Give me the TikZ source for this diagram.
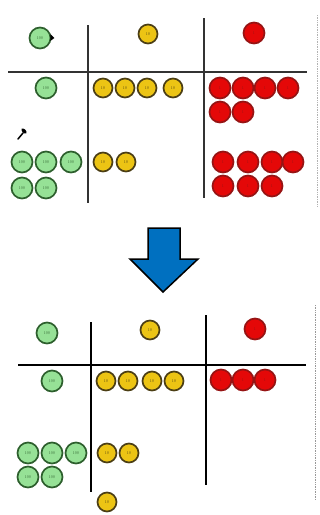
\documentclass[tikz,border=0pt]{standalone}
\usepackage{tikz}
\usetikzlibrary{positioning}

\definecolor{chipgreen}{RGB}{150,225,150}
\definecolor{greenedge}{RGB}{45,95,45}
\definecolor{chipyellow}{RGB}{236,196,20}
\definecolor{yellowedge}{RGB}{75,62,20}
\definecolor{chipred}{RGB}{228,8,8}
\definecolor{rededge}{RGB}{150,20,20}
\definecolor{arrowblue}{RGB}{0,112,192}

\begin{document}
\begin{tikzpicture}[
        x=0.1cm, y=-0.1cm,
        chip/.style={circle, inner sep=0pt, line width=0.17cm, font=\fontsize{12}{12}\selectfont},
        hundred/.style={chip, draw=greenedge, fill=chipgreen, text=greenedge, minimum size=2.1cm},
        ten/.style={chip, draw=yellowedge, fill=chipyellow, text=yellowedge, minimum size=1.9cm},
        one/.style={chip, draw=rededge, fill=chipred, text=rededge, minimum size=2.1cm},
        grid/.style={line width=0.2cm, draw=black!80}
        ]
        \useasboundingbox (0,0) rectangle (320,515);

        % top board
        \draw[grid] (88,25) -- (88,203);
        \draw[grid] (204,18) -- (204,198);
        \draw[grid] (8,72) -- (307,72);
        \draw[black!30, dotted, line width=0.1cm] (317,15) -- (317,207);

        \node[hundred] (tH) at (40,38) {100};
        \node[ten] (tT) at (148,34) {10};
        \node[one] (tO) at (254,33) {1};
        \fill (tH.east) ++(-1,-4) -- ++(4,4) -- ++(-4,3) -- cycle;

        \node[hundred] (aH1) at (46,88) {100};
        \foreach \x [count=\i] in {103,125,147,173}
            \node[ten] (aT\i) at (\x,88) {10};
        \foreach \x [count=\i] in {220,243,265,288}
            \node[one] (aO\i) at (\x,88) {1};
        \foreach \x [count=\i from 5] in {220,243}
            \node[one] (aO\i) at (\x,112) {1};

        \draw[line width=0.15cm, line cap=round] (18,139) -- (23,133);
        \fill[rotate around={-45:(24,131)}] (24,131) ellipse (3.2 and 1.8);

        \foreach \x [count=\i] in {22,46,71}
            \node[hundred] (bH\i) at (\x,162) {100};
        \foreach \x [count=\i from 4] in {22,46}
            \node[hundred] (bH\i) at (\x,188) {100};
        \foreach \x [count=\i] in {103,126}
            \node[ten] (bT\i) at (\x,162) {10};
        \foreach \x [count=\i] in {223,248,272,293}
            \node[one] (bO\i) at (\x,162) {1};
        \foreach \x [count=\i from 5] in {223,248,272}
            \node[one] (bO\i) at (\x,186) {1};

        % arrow
        \draw[fill=arrowblue, line width=0.15cm, line join=miter]
            (148,228) -- (180,228) -- (180,259) -- (198,259) -- (163,292)
            -- (130,259) -- (148,259) -- cycle;

        % bottom board
        \draw[grid, draw=black] (91,322) -- (91,492);
        \draw[grid, draw=black] (206,315) -- (206,485);
        \draw[grid, draw=black] (18,365) -- (306,365);
        \draw[black!40, dotted, line width=0.1cm] (315,305) -- (315,500);

        \node[hundred] (cH) at (47,333) {100};
        \node[ten] (cT) at (150,330) {10};
        \node[one] (cO) at (255,329) {1};

        \node[hundred] (dH1) at (52,381) {100};
        \foreach \x [count=\i] in {106,128,152,174}
            \node[ten] (dT\i) at (\x,381) {10};
        \foreach \x [count=\i] in {221,243,265}
            \node[one] (dO\i) at (\x,380) {1};

        \foreach \x [count=\i] in {28,52,76}
            \node[hundred] (eH\i) at (\x,453) {100};
        \foreach \x [count=\i from 4] in {28,52}
            \node[hundred] (eH\i) at (\x,477) {100};
        \foreach \x [count=\i] in {107,129}
            \node[ten] (eT\i) at (\x,453) {10};
        \node[ten] (eT3) at (107,502) {10};
    \end{tikzpicture}
\end{document}
